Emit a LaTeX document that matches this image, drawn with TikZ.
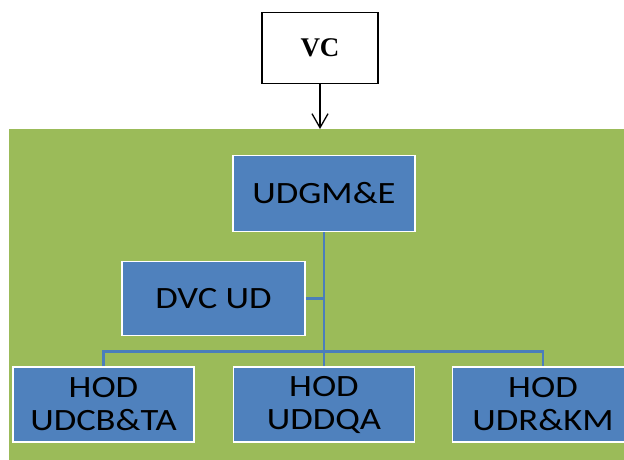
\documentclass[tikz,border=0pt]{standalone}
\usepackage{fontspec}
\setmainfont{Liberation Serif}
\newfontfamily\boxfont[FakeStretch=1.18]{Carlito}
\usetikzlibrary{arrows.meta}
\definecolor{bggreen}{HTML}{9BBB59}
\definecolor{boxblue}{HTML}{4F81BD}
\definecolor{lineblue}{HTML}{4A7EBB}
\tikzset{
  orgbox/.style={draw=white, line width=1.8pt, fill=boxblue, minimum width=181pt, minimum height=75pt,
    align=center, font=\boxfont\fontsize{31}{33}\selectfont, text=black, inner sep=0pt},
  topbox/.style={draw=black, line width=1.8pt, fill=white, minimum width=116pt, minimum height=71pt,
    font=\bfseries\fontsize{27}{30}\selectfont, inner sep=0pt},
  orgline/.style={draw=lineblue, line width=2.6pt},
  downarrow/.style={draw=black, line width=1.3pt, -{Straight Barb[length=14pt, width=16pt, line width=1.3pt]}}
}
\begin{document}
\begin{tikzpicture}[x=1pt,y=-1pt]
\useasboundingbox (0,0) rectangle (624,459);
\clip (0,0) rectangle (624,459);
\fill[bggreen] (9,129) rectangle (640,470);
\node[topbox] (vc) at (320,48) {VC};
\coordinate (gtop) at (320,129);
\draw[downarrow] (vc.south) -- (gtop);
\node[orgbox, minimum width=182pt, minimum height=76pt] (udgm) at (324,193.5) {UDGM\&E};
\node[orgbox, minimum width=183pt, minimum height=74pt] (dvc) at (213.5,298.5) {DVC UD};
\node[orgbox] (hod1) at (103.5,404.5) {HOD\\UDCB\&TA};
\node[orgbox] (hod2) at (324,404.5) {HOD\\UDDQA};
\node[orgbox] (hod3) at (543,404.5) {HOD\\UDR\&KM};
\draw[orgline] (udgm.south) -- (hod2.north);
\draw[orgline] (dvc.east) -- (dvc.east -| udgm.south);
\draw[orgline] (hod1.north) -- ++(0,-14.5) -| (hod3.north);
\end{tikzpicture}
\end{document}
